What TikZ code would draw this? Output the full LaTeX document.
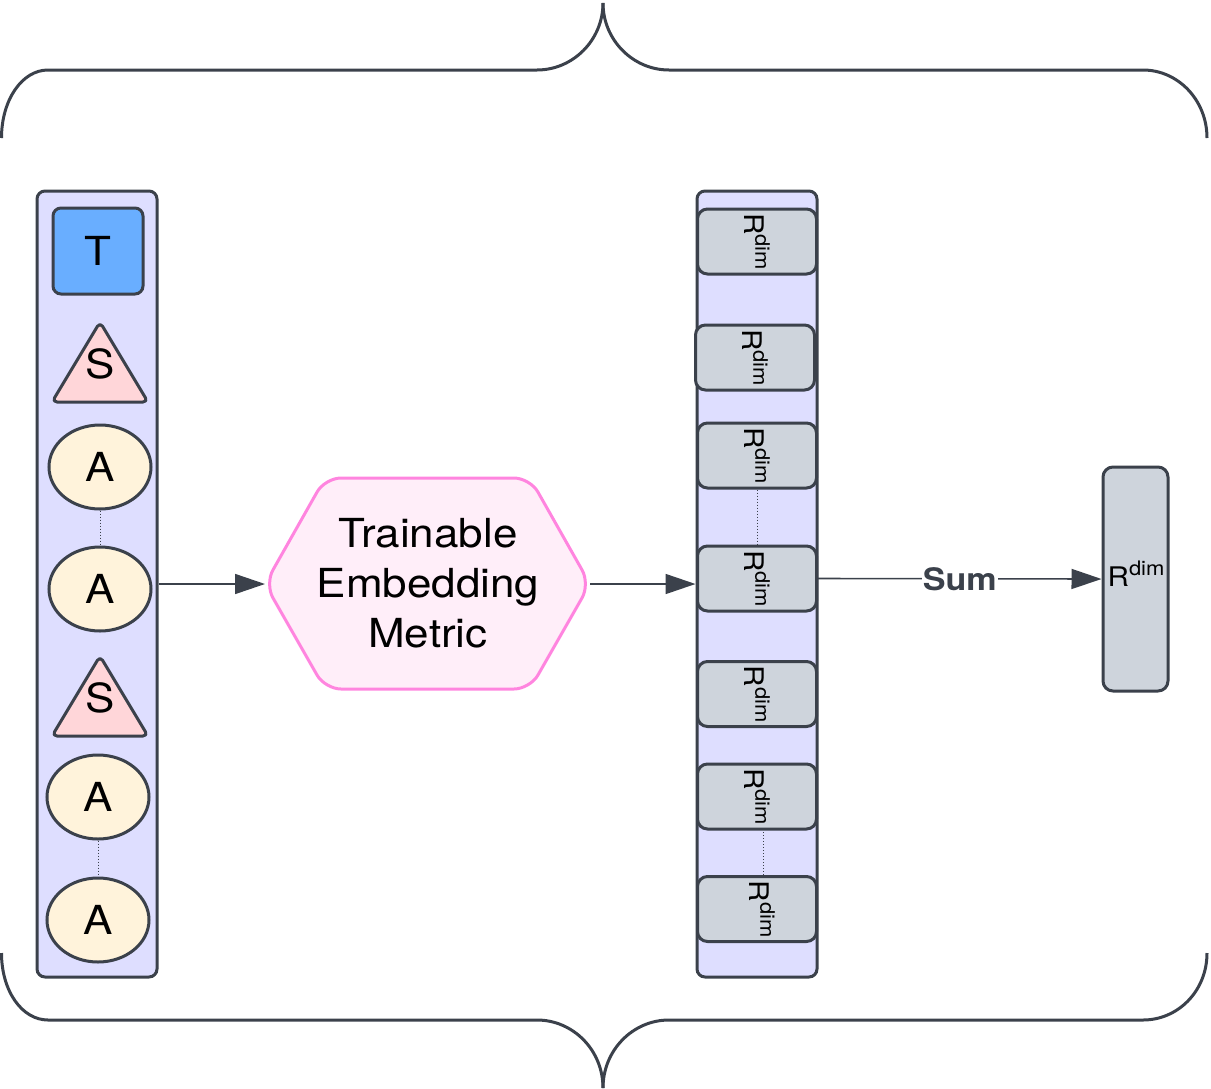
\documentclass[tikz,border=0pt]{standalone}
\usepackage{fontspec}
\setmainfont[FakeStretch=1.1]{TeX Gyre Heros}
\usetikzlibrary{arrows.meta,shapes.geometric}
\definecolor{ink}{HTML}{3B414B}
\definecolor{lav}{HTML}{DEDEFF}
\definecolor{tblue}{HTML}{69AEFF}
\definecolor{spink}{HTML}{FFD6D9}
\definecolor{acream}{HTML}{FFF3DB}
\definecolor{rgray}{HTML}{CED4DC}
\definecolor{hexfill}{HTML}{FFEEF9}
\definecolor{hexline}{HTML}{FF85DF}
\newcommand{\rdimlabel}{R\raisebox{0.42em}{\fontsize{20}{24}\selectfont dim}}
\tikzset{
  container/.style={draw=ink, line width=3pt, fill=lav, rounded corners=8pt, minimum width=120pt, minimum height=786pt, inner sep=0pt},
  tbox/.style={draw=ink, line width=3pt, fill=tblue, rounded corners=8pt, minimum width=90pt, minimum height=86pt, inner sep=0pt, font=\fontsize{40}{48}\selectfont},
  tri/.style={draw=ink, line width=3pt, fill=spink, rounded corners=5pt, line join=round},
  bigletter/.style={inner sep=0pt, font=\fontsize{40}{48}\selectfont},
  aell/.style={draw=ink, line width=3pt, fill=acream, ellipse, minimum width=102pt, minimum height=84pt, inner sep=0pt, font=\fontsize{40}{48}\selectfont},
  rbox/.style={draw=ink, line width=3pt, fill=rgray, rounded corners=10pt, minimum width=119pt, minimum height=65pt, inner sep=0pt},
  rlab/.style={rotate=-90, inner sep=0pt, font=\fontsize{27}{32}\selectfont},
  dots/.style={draw=ink, line width=1pt, dotted},
  conn/.style={draw=ink, line width=1.6pt, -{Triangle[length=30pt,width=20pt]}},
  brace/.style={draw=ink, line width=3pt},
}
\begin{document}
\begin{tikzpicture}[x=1pt,y=-1pt]
\useasboundingbox (0,0) rectangle (1211,1088);

% braces
\draw[brace] (1.5,138) .. controls (1.5,100) and (22,70) .. (48,70) -- (537,70)
  .. controls (573,70) and (603,40) .. (603,3);
\draw[brace] (603,3) .. controls (603,40) and (633,70) .. (669,70) -- (1143,70)
  .. controls (1178,70) and (1207,100) .. (1207,138);
\draw[brace] (1.5,953) .. controls (1.5,991) and (22,1020) .. (48,1020) -- (537,1020)
  .. controls (573,1020) and (603,1050) .. (603,1088);
\draw[brace] (603,1088) .. controls (603,1050) and (633,1020) .. (669,1020) -- (1143,1020)
  .. controls (1178,1020) and (1207,991) .. (1207,953);

% left container
\node[container] (L) at (97,584) {};
\node[tbox] (T) at (98,251) {T};
\draw[tri] (100,322) -- (148,402) -- (52,402) -- cycle;
\node[bigletter] (S1) at (100,364) {S};
\node[aell] (A1) at (100,467) {A};
\node[aell] (A2) at (100,589) {A};
\draw[tri] (100,656) -- (148,736) -- (52,736) -- cycle;
\node[bigletter] (S2) at (100,698) {S};
\node[aell] (A3) at (98,797) {A};
\node[aell] (A4) at (98,920) {A};
\draw[dots] (A1.south) -- (A2.north);
\draw[dots] (A3.south) -- (A4.north);

% hexagon
\coordinate (hL) at (265,584);
\coordinate (hR) at (590,584);
\draw[draw=hexline, line width=3pt, fill=hexfill, rounded corners=16pt]
  (hL) -- (325,478) -- (530,478) -- (hR) -- (530,689) -- (325,689) -- cycle;
\node[align=center, inner sep=0pt, font=\fontsize{40}{50}\selectfont] (H) at (428,583)
  {Trainable\\Embedding\\Metric};

% right container
\node[container] (R) at (757,584) {};
\node[rbox] (r1) at (757,241.5) {};
\node[rbox] (r2) at (755,357.5) {};
\node[rbox] (r3) at (757,455.5) {};
\node[rbox] (r4) at (757,578.5) {};
\node[rbox] (r5) at (757,694) {};
\node[rbox] (r6) at (757,796.5) {};
\node[rbox] (r7) at (757,909) {};
\draw[dots] (r3.south) -- (r4.north);
\draw[dots] (763,829) -- (763,877);
\foreach \i/\x/\y in {1/757/241.5, 2/755/357.5, 3/757/455.5, 4/757/578.5, 5/757/694, 6/757/796.5, 7/762/909}{
  \node[rlab] (r\i l) at (\x,\y) {\rdimlabel};
}

% final box
\node[rbox, minimum width=65pt, minimum height=224pt] (F) at (1135.5,579) {};
\node[inner sep=0pt, font=\fontsize{27}{32}\selectfont] (Fl) at (1136,574) {\rdimlabel};

% connectors
\draw[conn] (L.east |- hL) -- (hL);
\draw[conn] (hR) -- (R.west |- hR);
\draw[conn] (r4.east) -- node[fill=white, inner sep=1pt, text=ink, font=\fontsize{31}{36}\selectfont\bfseries] (sum) {Sum} (F.west);
\end{tikzpicture}
\end{document}
